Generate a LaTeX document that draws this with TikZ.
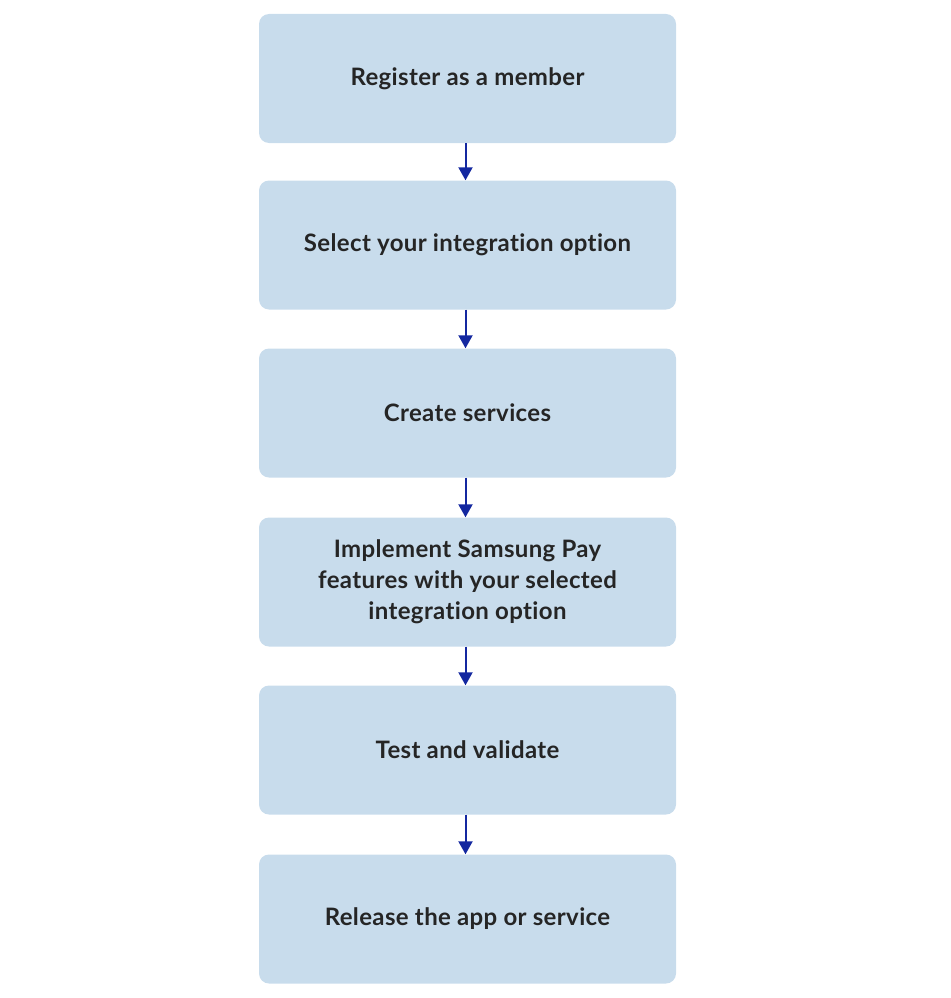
\documentclass[tikz,border=0pt]{standalone}
\usepackage{fontspec}
\setmainfont{Lato}[UprightFont={* Bold},RawFeature={-liga;-dlig},LetterSpace=1.5]
\usetikzlibrary{arrows.meta}
\definecolor{boxfill}{HTML}{C8DCEC}
\definecolor{arrowblue}{HTML}{1428A0}
\definecolor{txt}{HTML}{252525}
\begin{document}
\begin{tikzpicture}[x=1pt,y=-1pt,
  stepbox/.style={rectangle, rounded corners=10pt, fill=boxfill, draw=none,
    minimum width=417pt, minimum height=129pt, text=txt, align=center,
    font=\fontsize{24}{31}\selectfont, inner sep=0pt},
  flow/.style={draw=arrowblue, line width=2pt, -{Triangle[width=14pt,length=13pt]}, arrowblue}]
\useasboundingbox (0,0) rectangle (950,998);
\node[stepbox] (s1) at (467.5,78.5) {Register as a member};
\node[stepbox] (s2) at (467.5,245) {Select your integration option};
\node[stepbox] (s3) at (467.5,413) {Create services};
\node[stepbox] (s4) at (467.5,582) {Implement Samsung Pay\\features with your selected\\integration option};
\node[stepbox] (s5) at (467.5,750) {Test and validate};
\node[stepbox] (s6) at (467.5,919) {Release the app or service};
\foreach \a/\b in {s1/s2,s2/s3,s3/s4,s4/s5,s5/s6}{
  \draw[flow] ([xshift=-2pt]\a.south) -- ([xshift=-2pt]\b.north);
}
\end{tikzpicture}
\end{document}
